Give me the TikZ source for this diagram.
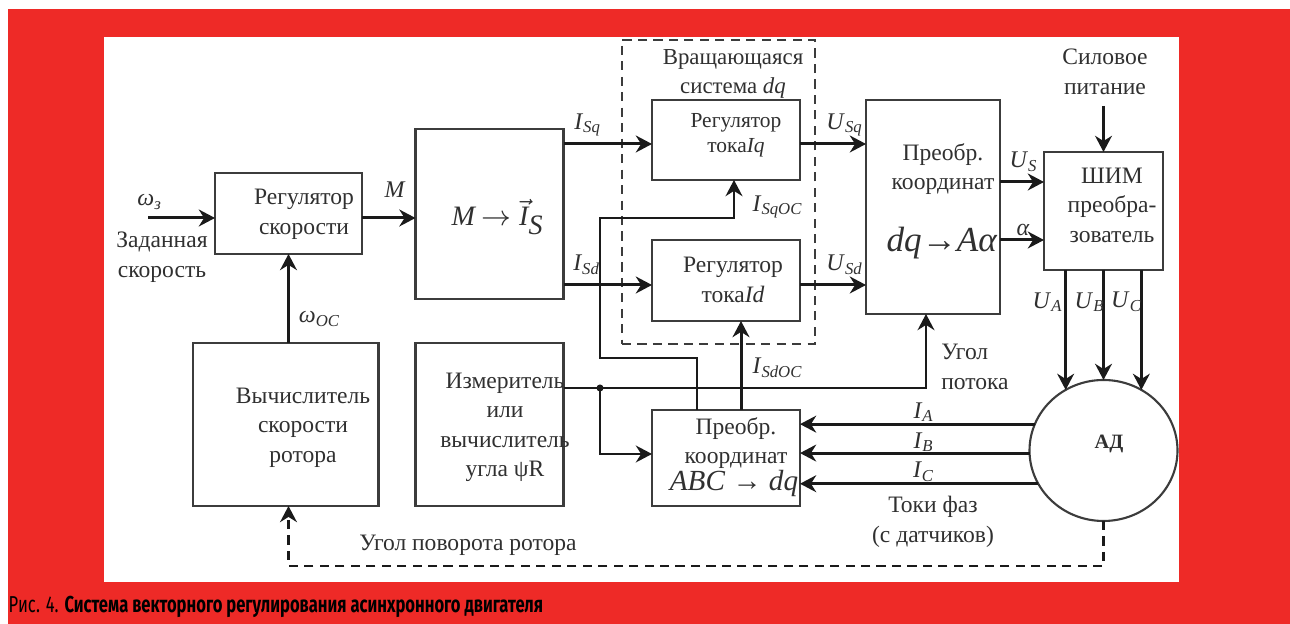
\documentclass[tikz,border=0pt]{standalone}
\usepackage{fontspec}
\setmainfont{Liberation Serif}
\newfontfamily\capfont[FakeStretch=0.72]{Fira Sans}
\usepackage{xcolor}
\usetikzlibrary{arrows.meta,calc,positioning,shapes.geometric}
\definecolor{blackmain}{HTML}{1A1A1A}
\definecolor{boxgray}{HTML}{3C3C3C}
\definecolor{textgray}{HTML}{303030}
\definecolor{redband}{HTML}{EE2A27}
\newcommand{\tvar}[2]{\textit{#1}\textsubscript{\textit{#2}}}
\tikzset{
  blk/.style={draw=boxgray,line width=.6pt,inner sep=0pt,outer sep=0pt},
  dash2/.style={dash pattern=on 2.6pt off 1.8pt},
  txt/.style={text=textgray,font=\fontsize{6.7}{8.4}\selectfont,align=center,inner sep=0pt},
  txtsm/.style={txt,font=\fontsize{6.1}{7.2}\selectfont},
  var/.style={txt,font=\fontsize{6.8}{8}\selectfont},
  bigtxt/.style={txt,font=\fontsize{10}{12}\selectfont},
  arr/.style={-{Stealth[length=4.6pt,width=4.8pt]},blackmain,line width=.85pt},
  thinarr/.style={arr,line width=.65pt}
}
\begin{document}
\begin{tikzpicture}
  \useasboundingbox (0,0) rectangle (12.9,6.24);
  \fill[redband] (0.08,0) rectangle (12.9,6.15);
  \fill[white] (1.04,0.42) rectangle (11.79,5.87);
  % blocks
  \node[blk,minimum width=1.47cm,minimum height=.81cm] (regw) at (2.885,4.105) {};
  \node[blk,minimum width=1.48cm,minimum height=1.70cm] (mis) at (4.895,4.10) {};
  \node[blk,minimum width=1.855cm,minimum height=1.63cm] (vcs) at (2.858,1.995) {};
  \node[blk,minimum width=1.48cm,minimum height=1.63cm] (meas) at (4.895,1.995) {};
  \node[blk,minimum width=1.48cm,minimum height=.805cm] (regq) at (7.26,4.84) {};
  \node[blk,minimum width=1.48cm,minimum height=.81cm] (regd) at (7.26,3.435) {};
  \node[blk,minimum width=1.34cm,minimum height=2.14cm] (dqb) at (9.33,4.17) {};
  \node[blk,minimum width=1.19cm,minimum height=1.18cm] (pwm) at (11.035,4.13) {};
  \node[blk,minimum width=1.48cm,minimum height=.96cm] (abc) at (7.26,1.66) {};
  \node[blk,dash2,line width=.7pt,minimum width=1.93cm,minimum height=3.04cm] (rotframe) at (7.185,4.32) {};
  \node[blk,ellipse,minimum width=1.48cm,minimum height=1.41cm] (ad) at (11.035,1.735) {};
  % levels and free ends
  \coordinate (wset) at (1.48,4.06);
  \coordinate (rowq) at (5,4.80);
  \coordinate (rowd) at (5,3.39);
  \coordinate (rowus) at (10,4.42);
  \coordinate (rowal) at (10,3.84);
  \coordinate (power) at (11.035,5.18);
  \coordinate (flux) at (6.00,2.36);
  \coordinate (fluxin) at (9.26,3.10);
  \coordinate (abcin) at (6.00,1.70);
  \coordinate (sqout) at (6.97,2.14);
  \coordinate (sqin) at (7.34,4.44);
  \coordinate (sdout) at (7.41,2.14);
  \coordinate (sdin) at (7.41,3.03);
  \coordinate (rotb) at (2.885,0.58);
  % connectors
  \draw[arr] (wset) -- (regw.west |- wset);
  \draw[arr] (regw.east |- wset) -- (mis.west |- wset);
  \draw[thinarr] (vcs.north -| regw.south) -- (regw.south);
  \draw[arr] (mis.east |- rowq) -- (regq.west |- rowq);
  \draw[arr] (mis.east |- rowd) -- (regd.west |- rowd);
  \draw[arr] (regq.east |- rowq) -- (dqb.west |- rowq);
  \draw[arr] (regd.east |- rowd) -- (dqb.west |- rowd);
  \draw[arr] (dqb.east |- rowus) -- (pwm.west |- rowus);
  \draw[arr] (dqb.east |- rowal) -- (pwm.west |- rowal);
  \draw[thinarr] (power) -- (pwm.north);
  \draw[arr] (ad.122 |- pwm.south) -- (ad.122);
  \draw[arr] (pwm.south) -- (ad.north);
  \draw[arr] (ad.58 |- pwm.south) -- (ad.58);
  \draw[thinarr] (meas.east |- flux) -| (fluxin);
  \fill[blackmain] (flux) circle (1pt);
  \draw[thinarr] (flux) |- (abc.west |- abcin);
  \draw[thinarr] (sqout) -- (6.97,2.66) -- (6.00,2.66) -- (6.00,4.06) -- (7.34,4.06) -- (sqin);
  \draw[arr] (sdout) -- (sdin);
  \draw[arr] (ad.159) -- (abc.east |- ad.159);
  \draw[arr] (ad.182) -- (abc.east |- ad.182);
  \draw[arr] (ad.207) -- (abc.east |- ad.207);
  \draw[thinarr,dash2] (ad.south) |- (rotb) -- (regw.south |- vcs.south);
  % block texts
  \node[txt] (regwtxt) at (3.04,4.095) {Регулятор\\скорости};
  \node[txt] (mistxt) at (4.98,4.07) {\fontsize{8}{10}\selectfont\textit{M}\,$\rightarrow\vec{\textit{I}}_{\textit{S}}$};
  \node[txt] (vcstxt) at (3.03,1.965) {Вычислитель\\скорости\\ротора};
  \node[txt] (meastxt) at (5.05,1.965) {Измеритель\\или\\вычислитель\\угла ψR};
  \node[txtsm] (regqtxt) at (7.36,4.885) {Регулятор\\тока\textit{Iq}};
  \node[txt] (regdtxt) at (7.33,3.44) {Регулятор\\тока\textit{Id}};
  \node[txt] (dqbtxt) at (9.43,4.55) {Преобр.\\координат};
  \node[bigtxt] (dqbmap) at (9.42,3.81) {\textit{dq}→\textit{Aα}};
  \node[txt] (pwmtxt) at (11.12,4.19) {ШИМ\\преобра-\\зователь};
  \node[txt] (abctxt) at (7.36,1.81) {Преобр.\\координат};
  \node[txt,font=\fontsize{8.3}{10}\selectfont] (abcmap) at (7.34,1.41) {\textit{ABC} → \textit{dq}};
  \node[txt,font=\fontsize{5.8}{7}\selectfont\bfseries] (adtxt) at (11.09,1.80) {АД};
  % signal labels
  \node[var] (wsetlbl) at (1.50,4.22) {\tvar{ω}{з}};
  \node[txt] (wsettxt) at (1.62,3.67) {Заданная\\скорость};
  \node[var] (mlbl) at (3.95,4.34) {\textit{M}};
  \node[var] (woclbl) at (3.20,3.05) {\tvar{ω}{ОС}};
  \node[txt] (rottxt) at (4.68,0.79) {Угол поворота ротора};
  \node[var] (isqlbl) at (5.88,4.99) {\tvar{I}{Sq}};
  \node[var] (isdlbl) at (5.87,3.59) {\tvar{I}{Sd}};
  \node[txt,font=\fontsize{6.5}{8.4}\selectfont] (frametxt) at (7.33,5.50) {Вращающаяся\\система \textit{dq}};
  \node[var] (isqoclbl) at (7.78,4.17) {\tvar{I}{SqОС}};
  \node[var] (isdoclbl) at (7.78,2.56) {\tvar{I}{SdОС}};
  \node[var] (usqlbl) at (8.45,4.99) {\tvar{U}{Sq}};
  \node[var] (usdlbl) at (8.45,3.59) {\tvar{U}{Sd}};
  \node[var] (uslbl) at (10.24,4.62) {\tvar{U}{S}};
  \node[var] (allbl) at (10.23,3.94) {\textit{α}};
  \node[txt] (powertxt) at (11.05,5.52) {Силовое\\питание};
  \node[var] (ualbl) at (10.48,3.22) {\tvar{U}{A}};
  \node[var] (ublbl) at (10.90,3.22) {\tvar{U}{B}};
  \node[var] (uclbl) at (11.27,3.22) {\tvar{U}{C}};
  \node[txt,align=left] (fluxtxt) at (9.75,2.57) {Угол\\потока};
  \node[var] (ialbl) at (9.24,2.12) {\tvar{I}{A}};
  \node[var] (iblbl) at (9.24,1.82) {\tvar{I}{B}};
  \node[var] (iclbl) at (9.24,1.52) {\tvar{I}{C}};
  \node[txt] (phasetxt) at (9.33,1.02) {Токи фаз\\(с датчиков)};
  % caption
  \node[anchor=west,inner sep=0pt,text=black,font=\capfont\fontsize{6.55}{7}\selectfont] (figcap) at (0.08,0.17) {Рис. 4. \textbf{Система векторного регулирования асинхронного двигателя}};
\end{tikzpicture}
\end{document}
